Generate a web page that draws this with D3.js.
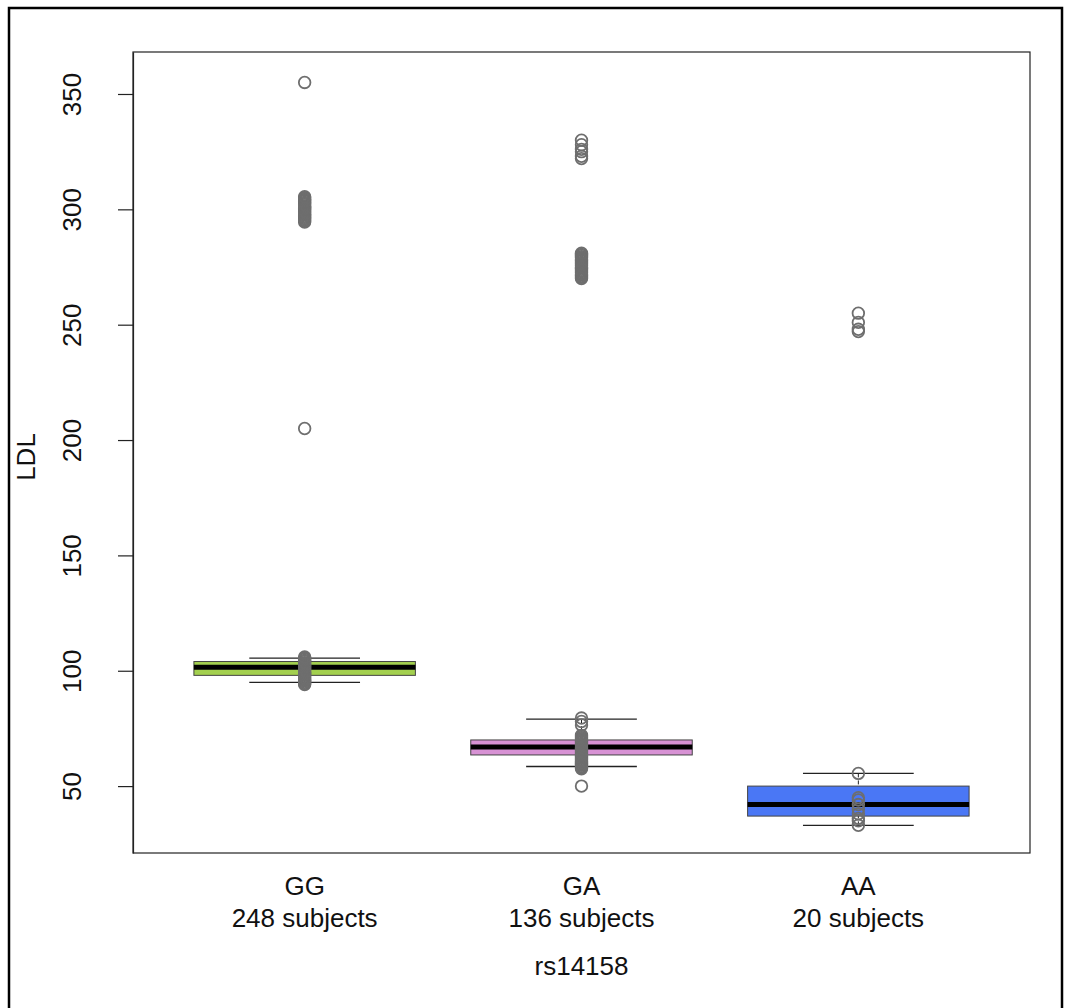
<!DOCTYPE html>
<html>
<head>
  <meta charset="utf-8">
  <title>LDL by rs14158</title>
  <script src="https://d3js.org/d3.v7.min.js"></script>
  <style>
    body { margin: 0; background: #fff; font-family: "Liberation Sans", Arial, sans-serif; }
    svg text { fill: #111; }
  </style>
</head>
<body>
  <svg width="1069" height="1008"></svg>
  <script>
    // genotype groups and box stats
    const groups = ["GG", "GA", "AA"];
    const counts = [248, 136, 20];
    const fills = ["#a3d04f", "#d792d4", "#4a77f5"];
    const q1 = [98, 63.5, 37];
    const median = [101.5, 67, 42];
    const q3 = [104, 70, 50];
    const whiskerLo = [95, 58.5, 33];
    const whiskerHi = [105.5, 79, 55.5];

    // individual points drawn on top (dense runs overlap into solid blobs)
    const pointsGG = [94, 94.5, 95, 95.5, 96, 96.5, 97, 97.5, 98, 98.5, 99, 99.5, 100, 100.5,
      101, 101.5, 102, 102.5, 103, 103.5, 104, 104.5, 105, 105.5, 106,
      205,
      294.5, 295, 295.5, 296, 296.5, 297, 297.5, 298, 298.5, 299, 299.5, 300, 300.5,
      301, 301.5, 302, 302.5, 303, 303.5, 304, 304.5, 305, 305.5,
      355];
    const pointsGA = [50,
      57.5, 58, 58.5, 59, 59.5, 60, 60.5, 61, 61.5, 62, 62.5, 63, 63.5, 64, 64.5, 65, 65.5,
      66, 66.5, 67, 67.5, 68, 68.5, 69, 69.5, 70, 70.5, 71, 71.5, 72,
      76.5, 78, 79.5,
      270, 270.5, 271, 271.5, 272, 272.5, 273, 273.5, 274, 274.5, 275, 275.5, 276, 276.5,
      277, 277.5, 278, 278.5, 279, 279.5, 280, 280.5, 281,
      322, 323, 325, 326, 328, 330];
    const pointsAA = [33, 35, 36, 38, 40, 42, 44, 45, 55.5, 247, 248, 251, 255];
    const points = [pointsGG, pointsGA, pointsAA];

    const yTicks = [50, 100, 150, 200, 250, 300, 350];

    const svg = d3.select("svg");
    const plotL = 133, plotR = 1030, plotT = 52, plotB = 853;
    const fs = 26;

    // outer frame
    svg.append("rect")
      .attr("x", 9).attr("y", 8)
      .attr("width", 1053).attr("height", 1005)
      .attr("fill", "none").attr("stroke", "#000").attr("stroke-width", 2.5);

    const x = d3.scaleLinear().domain([0.38, 3.62]).range([plotL, plotR]);
    const y = d3.scaleLinear().domain([21, 368.2]).range([plotB, plotT]);
    const bw = x(1.4) - x(1);
    const sw = x(1.2) - x(1);

    const g = svg.append("g");

    groups.forEach((name, i) => {
      const cx = x(i + 1);
      // whisker lines
      g.append("line")
        .attr("x1", cx).attr("x2", cx)
        .attr("y1", y(whiskerLo[i])).attr("y2", y(q1[i]))
        .attr("stroke", "#222").attr("stroke-dasharray", "4,3");
      g.append("line")
        .attr("x1", cx).attr("x2", cx)
        .attr("y1", y(whiskerHi[i])).attr("y2", y(q3[i]))
        .attr("stroke", "#222").attr("stroke-dasharray", "4,3");
      [whiskerLo[i], whiskerHi[i]].forEach(v => {
        g.append("line")
          .attr("x1", cx - sw).attr("x2", cx + sw)
          .attr("y1", y(v)).attr("y2", y(v))
          .attr("stroke", "#222").attr("stroke-width", 1.3);
      });
      // box
      g.append("rect")
        .attr("x", cx - bw).attr("width", 2 * bw)
        .attr("y", y(q3[i])).attr("height", y(q1[i]) - y(q3[i]))
        .attr("fill", fills[i]).attr("stroke", "#444").attr("stroke-width", 1);
      // median
      g.append("line")
        .attr("x1", cx - bw).attr("x2", cx + bw)
        .attr("y1", y(median[i])).attr("y2", y(median[i]))
        .attr("stroke", "#000").attr("stroke-width", 5);
      // points
      g.selectAll(null)
        .data(points[i])
        .enter().append("circle")
        .attr("cx", cx)
        .attr("cy", d => y(d))
        .attr("r", 5.8)
        .attr("fill", "none")
        .attr("stroke", "#6e6e6e")
        .attr("stroke-width", 1.8);
      // category labels
      g.append("text")
        .attr("x", cx).attr("y", 895)
        .attr("text-anchor", "middle")
        .attr("font-size", fs)
        .text(name);
      g.append("text")
        .attr("x", cx).attr("y", 927)
        .attr("text-anchor", "middle")
        .attr("font-size", fs)
        .text(counts[i] + " subjects");
    });

    // plot box
    svg.append("rect")
      .attr("x", plotL).attr("y", plotT)
      .attr("width", plotR - plotL).attr("height", plotB - plotT)
      .attr("fill", "none").attr("stroke", "#222").attr("stroke-width", 1.2);

    // y axis
    const yAxis = d3.axisLeft(y).tickValues(yTicks).tickSize(15).tickSizeOuter(0).tickPadding(0);
    const ya = svg.append("g").attr("transform", `translate(${plotL},0)`).call(yAxis);
    ya.select(".domain").attr("stroke", "#222").attr("stroke-width", 1.2);
    ya.selectAll(".tick line").attr("stroke", "#222").attr("stroke-width", 1.2);
    ya.selectAll(".tick text")
      .attr("font-size", fs)
      .attr("font-family", "Liberation Sans, Arial, sans-serif")
      .attr("fill", "#111")
      .attr("text-anchor", "middle")
      .attr("dy", null)
      .attr("transform", "translate(-52,0) rotate(-90)")
      .attr("x", 0).attr("y", 0);

    // axis titles
    svg.append("text")
      .attr("transform", "translate(35,457) rotate(-90)")
      .attr("text-anchor", "middle")
      .attr("font-size", fs)
      .text("LDL");
    svg.append("text")
      .attr("x", x(2)).attr("y", 975)
      .attr("text-anchor", "middle")
      .attr("font-size", fs)
      .text("rs14158");
  </script>
</body>
</html>
